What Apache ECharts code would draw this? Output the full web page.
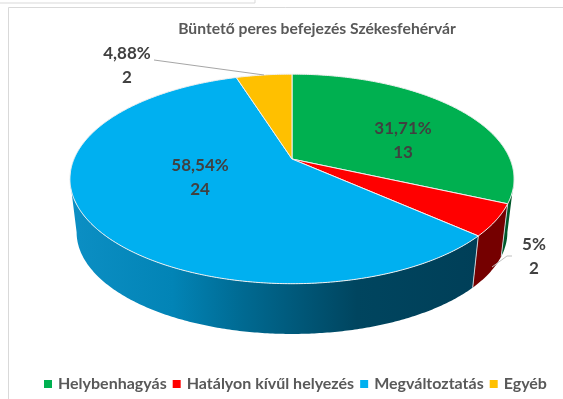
<!DOCTYPE html>
<html><head><meta charset="utf-8">
<script src="https://cdn.jsdelivr.net/npm/echarts@6/dist/echarts.min.js"></script>
<style>html,body{margin:0;padding:0;background:#fff}#c{width:563px;height:399px}</style>
</head><body><div id="c"></div>
<script>
var categories = ['Helybenhagyás', 'Hatályon kívűl helyezés', 'Megváltoztatás', 'Egyéb'];
var counts = [13, 2, 24, 2];
var percentLabels = ['31,71%', '5%', '58,54%', '4,88%'];
var topColors = ['#00B050', '#FF0000', '#00B0F0', '#FFC000'];
var wallStops = [
  [[0, '#00381c'], [1, '#00582a']],
  [[0, '#5c0000'], [1, '#750000']],
  [[0, '#0c8fc4'], [0.25, '#0284b6'], [0.42, '#006a92'], [0.7, '#00455f'], [1, '#003f58']],
  [[0, '#8c6a00'], [1, '#8c6a00']]
];
var labelAt = [[403, 141], [534, 257], [200, 178], [127, 66]];

var total = counts.reduce(function (a, b) { return a + b; }, 0);
var FONT = 'Lato, "Open Sans", sans-serif';
var CX = 292, CY = 159, A = 218, B = 101, K = 0.19, WALL_DY = 54, WALL_S = 0.97;
var TANGENT = Math.acos(-K);

function project(theta, bottom) {
  var u = Math.sin(theta), v = -Math.cos(theta), w = 1 - K * v;
  var s = bottom ? WALL_S : 1;
  return [CX + s * A * u / w, CY + (bottom ? WALL_DY : 0) + s * B * v / w];
}
function arc(from, to, bottom) {
  var pts = [], n = Math.max(2, Math.ceil((to - from) / 0.01));
  for (var i = 0; i <= n; i++) pts.push(project(from + (to - from) * i / n, bottom));
  return pts;
}
function renderer(index) {
  return function (params, api) {
    var before = 0;
    for (var i = 0; i < index; i++) before += counts[i];
    var start = before / total * 2 * Math.PI;
    var end = (before + api.value(0)) / total * 2 * Math.PI;
    var children = [];
    var wFrom = Math.max(start, TANGENT), wTo = Math.min(end, 2 * Math.PI - TANGENT);
    if (wTo > wFrom) {
      var top = arc(wFrom, wTo, false), bot = arc(wFrom, wTo, true).reverse();
      children.push({
        type: 'polygon', z2: 1, silent: true,
        shape: { points: top.concat(bot) },
        style: {
          fill: {
            type: 'linear', x: 70, y: 0, x2: 480, y2: 0, global: true,
            colorStops: wallStops[index].map(function (s) { return { offset: s[0], color: s[1] }; })
          }
        }
      });
      if (index > 0) {
        var a = project(wFrom, false), b = project(wFrom, true);
        children.push({
          type: 'line', z2: 1.5, silent: true,
          shape: { x1: a[0], y1: a[1], x2: b[0], y2: b[1] },
          style: { stroke: '#c9d2d6', lineWidth: 1 }
        });
      }
    }
    children.push({
      type: 'polygon', z2: 2, silent: true,
      shape: { points: [[CX, CY]].concat(arc(start, end, false)) },
      style: { fill: topColors[index], stroke: '#f0f0f0', lineWidth: 1 }
    });
    var at = labelAt[index];
    children.push({
      type: 'text', z2: 4, silent: true, x: at[0], y: at[1],
      style: {
        text: percentLabels[index] + '\n' + api.value(0),
        font: 'bold 17px ' + FONT, fill: '#404040', align: 'center', verticalAlign: 'middle', lineHeight: 24
      }
    });
    return { type: 'group', children: children };
  };
}

var chart = echarts.init(document.getElementById('c'), null, { renderer: 'canvas' });
chart.setOption({
  animation: false,
  backgroundColor: '#fff',
  title: {
    text: 'Büntető peres befejezés Székesfehérvár', left: 312, top: 16, textAlign: 'center',
    textStyle: { fontFamily: FONT, fontSize: 15.7, fontWeight: 'bold', color: '#595959' }
  },
  legend: {
    bottom: 2, left: 39, icon: 'rect', itemWidth: 8, itemHeight: 8, itemGap: 6,
    selectedMode: false, data: categories,
    textStyle: { fontFamily: FONT, fontSize: 16, fontWeight: 'bold', color: '#595959', padding: [0, 0, 0, 1] }
  },
  graphic: [
    { type: 'polyline', z: 10, shape: { points: [[154, 60], [264, 75]] }, style: { stroke: '#a6a6a6', lineWidth: 1, fill: null } },
    { type: 'polyline', z: 10, shape: { points: [[512, 256], [507, 256], [492, 267]] }, style: { stroke: '#bfbfbf', lineWidth: 1, fill: null } },
    { type: 'polyline', z: 10, shape: { points: [[0, 3], [255, 3], [255, 0]] }, style: { stroke: '#d9d9d9', lineWidth: 1, fill: null } },
    { type: 'polyline', z: 10, shape: { points: [[563, 7.5], [8.5, 7.5], [8.5, 399]] }, style: { stroke: '#d9d9d9', lineWidth: 1, fill: null } }
  ],
  series: categories.map(function (name, i) {
    return {
      type: 'custom', name: name, coordinateSystem: 'none', silent: true,
      itemStyle: { color: topColors[i] },
      renderItem: renderer(i), data: [[counts[i]]]
    };
  })
});
</script></body></html>
